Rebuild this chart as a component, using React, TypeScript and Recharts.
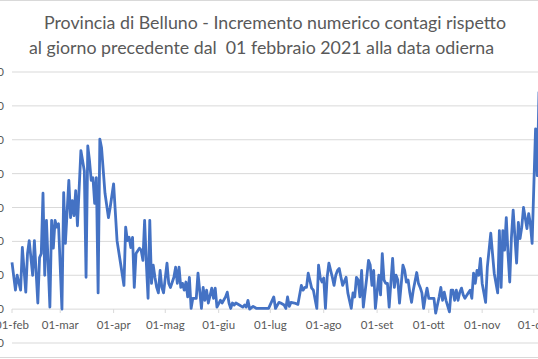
import React from 'react';
import { LineChart, Line, XAxis, YAxis, CartesianGrid } from 'recharts';

// giorni dal 01-feb-2021
const giorni = [
  0, 2, 3, 5, 6, 8, 9, 10, 12, 13, 15, 16, 17, 18, 19, 20, 22, 23, 24, 25, 26, 27, 29, 30, 31, 33, 34, 35, 36, 37, 38,
  40, 42, 43, 44, 45, 46, 47, 48, 49, 50, 51, 52, 54, 56, 57, 59, 61, 63, 65, 66, 67, 68, 69, 70, 71, 72, 74, 75, 76,
  77, 78, 79, 80, 81, 82, 83, 84, 85, 86, 87, 88, 90, 91, 92, 94, 95, 96, 97, 98, 99, 100, 101, 102, 103, 104, 105,
  107, 108, 110, 111, 112, 113, 114, 116, 117, 118, 119, 121, 122, 124, 125, 126, 127, 128, 129, 130, 132, 134, 135,
  136, 137, 138, 140, 142, 145, 147, 149, 152, 153, 155, 156, 158, 159, 160, 161, 162, 164, 166, 168, 169, 170, 171,
  172, 174, 175, 177, 178, 179, 180, 181, 182, 183, 184, 186, 187, 188, 189, 190, 191, 192, 194, 195, 197, 198, 199,
  200, 201, 202, 203, 204, 206, 207, 208, 209, 210, 211, 213, 214, 215, 216, 217, 218, 219, 221, 222, 223, 224, 225,
  227, 228, 229, 230, 231, 232, 233, 235, 236, 237, 238, 239, 240, 241, 242, 244, 245, 246, 248, 249, 250, 251, 252,
  254, 255, 256, 257, 258, 259, 260, 261, 262, 263, 265, 266, 267, 268, 269, 270, 271, 272, 273, 275, 276, 278, 279,
  280, 282, 283, 284, 285, 286, 287, 288, 289, 290, 291, 293, 294, 295, 296, 297, 298, 299, 300, 301, 302, 304, 305,
  306,
];

const incrementi = [
  69, 28, 50, 28, 91, 25, 82, 101, 50, 101, 9, 76, 82, 171, 50, 131, 3, 131, 90, 131, 121, 126, 0, 172, 97, 190, 135,
  160, 138, 175, 123, 234, 204, 47, 241, 219, 190, 194, 156, 194, 24, 251, 238, 171, 135, 150, 185, 101, 68, 35, 121,
  101, 106, 91, 106, 32, 82, 90, 87, 72, 131, 68, 16, 131, 38, 65, 47, 32, 24, 57, 32, 24, 68, 38, 32, 47, 62, 38, 62,
  32, 38, 28, 40, 18, 47, 1, 16, 16, 53, 1, 32, 13, 28, 9, 31, 16, 31, 3, 13, 9, 18, 25, 9, 1, 9, 6, 9, 6, 3, 6, 3, 13,
  0, 4, 1, 1, 1, 1, 18, 1, 10, 9, 6, 1, 18, 4, 10, 9, 7, 35, 28, 32, 32, 53, 31, 28, 1, 65, 46, 40, 46, 1, 47, 68, 47,
  35, 50, 57, 60, 47, 35, 47, 24, 1, 24, 18, 47, 43, 18, 57, 3, 47, 72, 65, 35, 57, 1, 50, 21, 82, 43, 38, 38, 3, 75,
  32, 50, 43, 9, 65, 57, 40, 43, 24, 10, 28, 54, 38, 32, 24, 1, 18, 31, 16, 16, 16, -6, 18, 32, 13, 25, 13, -4, 28, 28,
  13, 28, 13, 25, 31, 21, 16, 24, 28, 16, 53, 38, 57, 50, 75, 38, 10, 62, 112, 82, 53, 24, 116, 32, 116, 87, 135, 82,
  40, 106, 146, 68, 128, 104, 121, 150, 135, 119, 141, 126, 97, 266, 197, 321,
];

const tickGiorni = [0, 28, 59, 89, 120, 150, 181, 212, 242, 273, 303];
const tickEtichette = ['01-feb', '01-mar', '01-apr', '01-mag', '01-giu', '01-lug', '01-ago', '01-set', '01-ott', '01-nov', '01-dic'];
const tickValori = [-50, 0, 50, 100, 150, 200, 250, 300, 350];

const dati = giorni.map((g, i) => ({ giorno: g, valore: incrementi[i] }));

const TickMese = (props: any) => {
  const { x, y, payload } = props;
  const idx = tickGiorni.indexOf(payload.value);
  return (
    <g>
      <line x1={x} x2={x} y1={y - 34} y2={y - 30} stroke="#d9d9d9" />
      <text x={x} y={y - 14} textAnchor="middle" fill="#595959" fontSize={11.5}>
        {tickEtichette[idx]}
      </text>
    </g>
  );
};

const App: React.FC = () => {
  return (
    <div style={{ position: 'absolute', left: 0, top: 0, width: 538, height: 359, overflow: 'hidden', background: '#fff', fontFamily: 'Lato, "Liberation Sans", sans-serif' }}>
      {/* bordo del grafico */}
      <div style={{ position: 'absolute', left: -2, top: 0, width: 542, height: 356, borderTop: '1px solid #d9d9d9', borderBottom: '1px solid #d9d9d9' }} />

      {/* titolo */}
      <div style={{ position: 'absolute', left: 0, top: 11, width: 550, textAlign: 'center', fontSize: 17.8, color: '#595959', whiteSpace: 'pre' }}>
        Provincia di Belluno - Incremento numerico contagi rispetto
      </div>
      <div style={{ position: 'absolute', left: 0, top: 36, width: 523, textAlign: 'center', fontSize: 17.8, color: '#595959', whiteSpace: 'pre' }}>
        al giorno precedente dal  01 febbraio 2021 alla data odierna
      </div>

      <div style={{ position: 'absolute', left: -48, top: 0 }}>
        <LineChart width={587} height={357} data={dati} margin={{ top: 72, right: 0, bottom: 0, left: 0 }}>
          <CartesianGrid vertical={false} stroke="#d9d9d9" />
          <XAxis
            dataKey="giorno"
            type="number"
            domain={[0, 306]}
            ticks={tickGiorni}
            interval={0}
            axisLine={false}
            tickLine={false}
            tickSize={0}
            tickMargin={0}
            height={14}
            tick={<TickMese />}
          />
          <YAxis
            domain={[-50, 350]}
            ticks={tickValori}
            interval={0}
            width={60}
            axisLine={false}
            tickLine={false}
            tick={{ fill: '#595959', fontSize: 11.5 }}
          />
          <Line type="linear" dataKey="valore" stroke="#4472c4" strokeWidth={2.8} strokeLinejoin="round" dot={false} isAnimationActive={false} />
        </LineChart>
      </div>
    </div>
  );
};

export default App;
